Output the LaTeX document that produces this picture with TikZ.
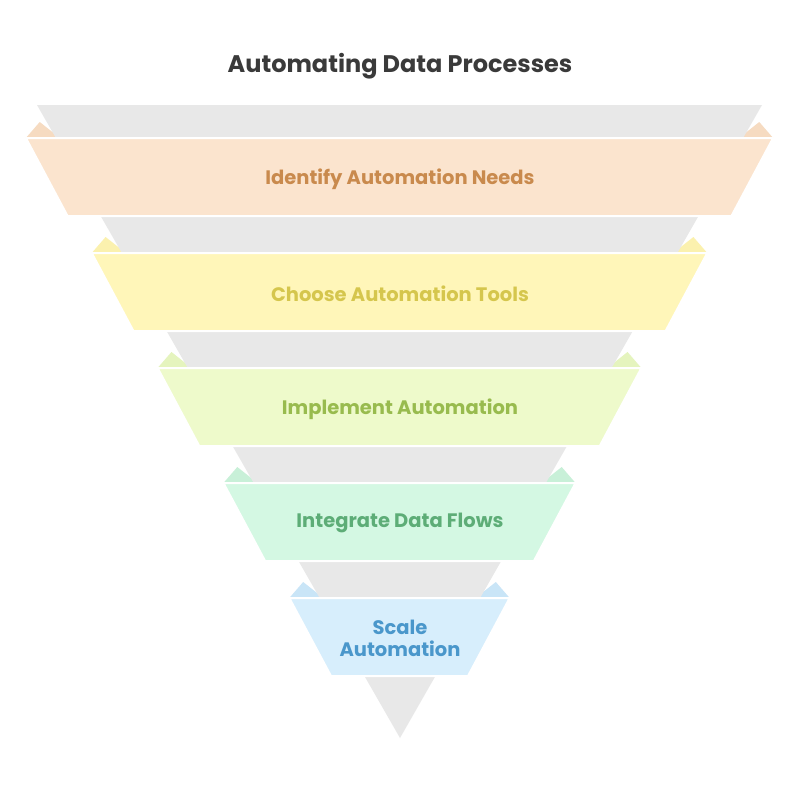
\documentclass[tikz,border=0pt]{standalone}
\usepackage{fontspec}
\setmainfont{Poppins}
\usetikzlibrary{positioning,calc}

\definecolor{funnelgray}{HTML}{E8E8E8}
\definecolor{titlegray}{HTML}{3A3A3A}
\definecolor{identifyfill}{HTML}{FBE4CE}
\definecolor{identifytext}{HTML}{C98A4D}
\definecolor{choosefill}{HTML}{FFF6B9}
\definecolor{choosetext}{HTML}{D5C64D}
\definecolor{implementfill}{HTML}{EEFACB}
\definecolor{implementtext}{HTML}{98BB4E}
\definecolor{integratefill}{HTML}{D4F8E3}
\definecolor{integratetext}{HTML}{5DAD77}
\definecolor{scalefill}{HTML}{D7EEFC}
\definecolor{scaletext}{HTML}{4A97CB}

\tikzset{
  band label/.style={font=\fontsize{19.5}{22}\selectfont\bfseries, align=center},
  band/.style={draw=white, line width=2pt, line join=round},
}

\begin{document}
\begin{tikzpicture}[x=1pt,y=-1pt]
		\useasboundingbox[fill=white] (0,0) rectangle (799,803);
		\node[font=\fontsize{24}{28}\selectfont\bfseries, text=titlegray] (title) at (400,66) {Automating Data Processes};
		% ears behind the funnel
		\foreach \i/\name in {0/identify,1/choose,2/implement,3/integrate,4/scale} {
			\pgfmathsetmacro\t{138+115*\i}
			\pgfmathsetmacro\gl{37+0.57267*(\t-105)}
			\pgfmathsetmacro\ge{37+0.57267*(\t-121)}
			\fill[\name fill!90!\name text] (\gl-30,\t) -- (\ge-7,\t-16) -- (\gl+4,\t) -- cycle;
			\fill[\name fill!90!\name text] (799-\gl+30,\t) -- (799-\ge+7,\t-16) -- (799-\gl-4,\t) -- cycle;
		}
		\fill[funnelgray] (37,105) -- (762,105) -- (400,738) -- cycle;
		% bands
		\foreach \i/\name in {0/identify,1/choose,2/implement,3/integrate,4/scale} {
			\pgfmathsetmacro\t{138+115*\i}
			\pgfmathsetmacro\b{\t+78}
			\pgfmathsetmacro\gl{37+0.57267*(\t-105)-30}
			\pgfmathsetmacro\bl{37+0.57267*(\b-105)-33}
			\path[band, fill=\name fill] (\gl,\t) -- (799-\gl,\t) -- (799-\bl,\b) -- (\bl,\b) -- cycle;
		}
		\node[band label, text=identifytext] (identify) at (400,179) {Identify Automation Needs};
		\node[band label, text=choosetext] (choose) at (400,294) {Choose Automation Tools};
		\node[band label, text=implementtext] (implement) at (400,409) {Implement Automation};
		\node[band label, text=integratetext] (integrate) at (400,523) {Integrate Data Flows};
		\node[band label, text=scaletext] (scale) at (400,638) {Scale\\Automation};
\end{tikzpicture}
\end{document}
